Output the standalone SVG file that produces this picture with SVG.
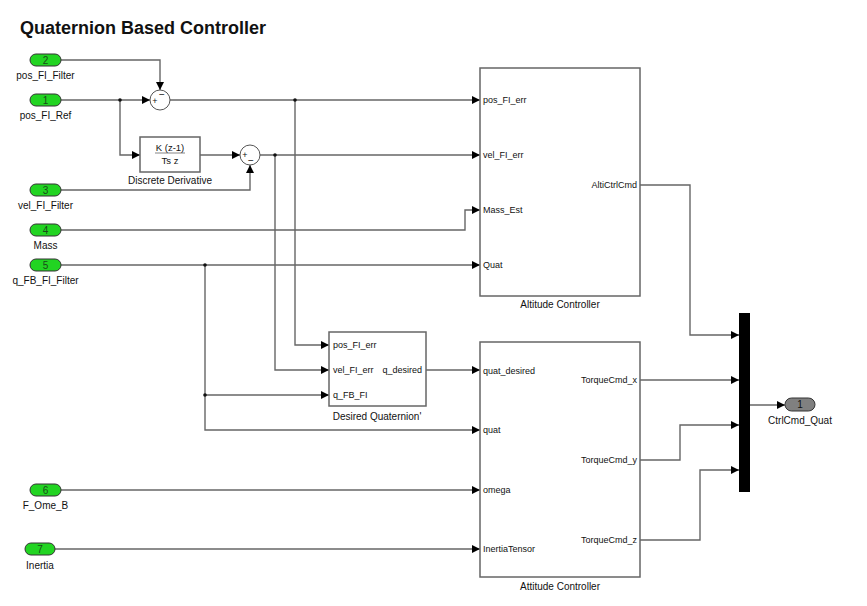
<svg xmlns="http://www.w3.org/2000/svg" width="867" height="606" viewBox="0 0 867 606">
<defs>
<marker id="arr" viewBox="0 0 8 8" refX="8" refY="4" markerWidth="8" markerHeight="8" markerUnits="userSpaceOnUse" orient="auto">
<path d="M0,0 L8,4 L0,8 z" fill="#000"/>
</marker>
<style>
text{font-family:"Liberation Sans",Arial,sans-serif;fill:#111}
.lbl{font-size:10px;text-anchor:middle}
.pin{font-size:9px}
.pout{font-size:9px;text-anchor:end}
.num{font-size:10px;text-anchor:middle;fill:#1a4a1a}
.inport{fill:#22d422;stroke:#333;stroke-width:1}
.outport{fill:#808080;stroke:#333;stroke-width:1}
.blk{fill:#fff;stroke:#666;stroke-width:1.5}
.w{fill:none;stroke:#666;stroke-width:1.4}
.a{marker-end:url(#arr)}
.dot{fill:#111}
</style>
</defs>
<rect width="867" height="606" fill="#fff"/>
<text x="20" y="34" style="font-size:18px;font-weight:bold">Quaternion Based Controller</text>

<g id="connectors">
<path class="w a" d="M61,60 H160 V90"/>
<path class="w a" d="M61,100 H150"/>
<path class="w a" d="M120,100 V155 H140"/>
<path class="w a" d="M170,100 H480"/>
<path class="w a" d="M295,100 V345 H329"/>
<path class="w a" d="M200,155 H240"/>
<path class="w a" d="M260,155 H480"/>
<path class="w a" d="M275,155 V370 H329"/>
<path class="w a" d="M61,190 H250 V165"/>
<path class="w a" d="M61,230 H465 V210 H480"/>
<path class="w a" d="M61,265 H480"/>
<path class="w a" d="M205,265 V430 H480"/>
<path class="w a" d="M205,395 H329"/>
<path class="w a" d="M426,370 H480"/>
<path class="w a" d="M61,490 H480"/>
<path class="w a" d="M55,549 H480"/>
<path class="w a" d="M640,185 H690 V335 H739"/>
<path class="w a" d="M640,380 H739"/>
<path class="w a" d="M640,460 H680 V425 H739"/>
<path class="w a" d="M640,540 H700 V470 H739"/>
<path class="w a" d="M750,405 H785"/>
<circle class="dot" cx="120" cy="100" r="1.8"/>
<circle class="dot" cx="295" cy="100" r="1.8"/>
<circle class="dot" cx="275" cy="155" r="1.8"/>
<circle class="dot" cx="205" cy="265" r="1.8"/>
<circle class="dot" cx="205" cy="395" r="1.8"/>
</g>

<g id="in2"><rect class="inport" x="30" y="54" width="31" height="12" rx="6"/><text class="num" x="45.5" y="63.5">2</text><text class="lbl" x="45.5" y="79">pos_FI_Filter</text></g>
<g id="in1"><rect class="inport" x="30" y="94" width="31" height="12" rx="6"/><text class="num" x="45.5" y="103.5">1</text><text class="lbl" x="45.5" y="119">pos_FI_Ref</text></g>
<g id="in3"><rect class="inport" x="30" y="184" width="31" height="12" rx="6"/><text class="num" x="45.5" y="193.5">3</text><text class="lbl" x="45.5" y="209">vel_FI_Filter</text></g>
<g id="in4"><rect class="inport" x="30" y="224" width="31" height="12" rx="6"/><text class="num" x="45.5" y="233.5">4</text><text class="lbl" x="45.5" y="249">Mass</text></g>
<g id="in5"><rect class="inport" x="30" y="259" width="31" height="12" rx="6"/><text class="num" x="45.5" y="268.5">5</text><text class="lbl" x="45.5" y="284">q_FB_FI_Filter</text></g>
<g id="in6"><rect class="inport" x="30" y="484" width="31" height="12" rx="6"/><text class="num" x="45.5" y="493.5">6</text><text class="lbl" x="45.5" y="509">F_Ome_B</text></g>
<g id="in7"><rect class="inport" x="25" y="543" width="30" height="12" rx="6"/><text class="num" x="40" y="552.5">7</text><text class="lbl" x="40" y="569">Inertia</text></g>

<g id="sum1"><circle cx="160" cy="100" r="10" fill="#fff" stroke="#555" stroke-width="1"/><text x="155" y="104" style="font-size:9px;text-anchor:middle">+</text><text x="162" y="98" style="font-size:10px;text-anchor:middle">−</text></g>
<g id="sum2"><circle cx="250" cy="155" r="10" fill="#fff" stroke="#555" stroke-width="1"/><text x="245" y="158" style="font-size:9px;text-anchor:middle">+</text><text x="251" y="164" style="font-size:10px;text-anchor:middle">−</text></g>

<g id="discrete_derivative"><rect class="blk" x="140" y="137" width="60" height="35"/><text x="170" y="151" style="font-size:9.5px;text-anchor:middle">K (z-1)</text><line x1="155" y1="153" x2="185" y2="153" stroke="#333" stroke-width="0.6"/><text x="170" y="164" style="font-size:9.5px;text-anchor:middle">Ts z</text><text class="lbl" x="170" y="184">Discrete Derivative</text></g>

<g id="altitude_controller"><rect class="blk" x="480" y="68" width="160" height="228"/>
<text class="pin" x="483" y="103">pos_FI_err</text><text class="pin" x="483" y="158">vel_FI_err</text><text class="pin" x="483" y="213">Mass_Est</text><text class="pin" x="483" y="268">Quat</text>
<text class="pout" x="637" y="188">AltiCtrlCmd</text>
<text class="lbl" x="560" y="308">Altitude Controller</text></g>

<g id="desired_quaternion"><rect class="blk" x="329" y="332" width="97" height="74"/>
<text class="pin" x="333" y="348">pos_FI_err</text><text class="pin" x="333" y="373">vel_FI_err</text><text class="pin" x="333" y="398">q_FB_FI</text>
<text class="pout" x="422" y="373">q_desired</text>
<text class="lbl" x="377" y="420">Desired Quaternion'</text></g>

<g id="attitude_controller"><rect class="blk" x="480" y="342" width="160" height="235"/>
<text class="pin" x="483" y="374">quat_desired</text><text class="pin" x="483" y="433">quat</text><text class="pin" x="483" y="493">omega</text><text class="pin" x="483" y="552">InertiaTensor</text>
<text class="pout" x="637" y="383">TorqueCmd_x</text><text class="pout" x="637" y="463">TorqueCmd_y</text><text class="pout" x="637" y="543">TorqueCmd_z</text>
<text class="lbl" x="560" y="590">Attitude Controller</text></g>

<g id="mux"><rect x="739" y="313" width="11" height="179" fill="#000"/></g>

<g id="out1"><rect class="outport" x="785" y="398" width="30" height="13" rx="6.5"/><text x="800" y="408" style="font-size:10px;text-anchor:middle">1</text><text class="lbl" x="800" y="424">CtrlCmd_Quat</text></g>
</svg>
